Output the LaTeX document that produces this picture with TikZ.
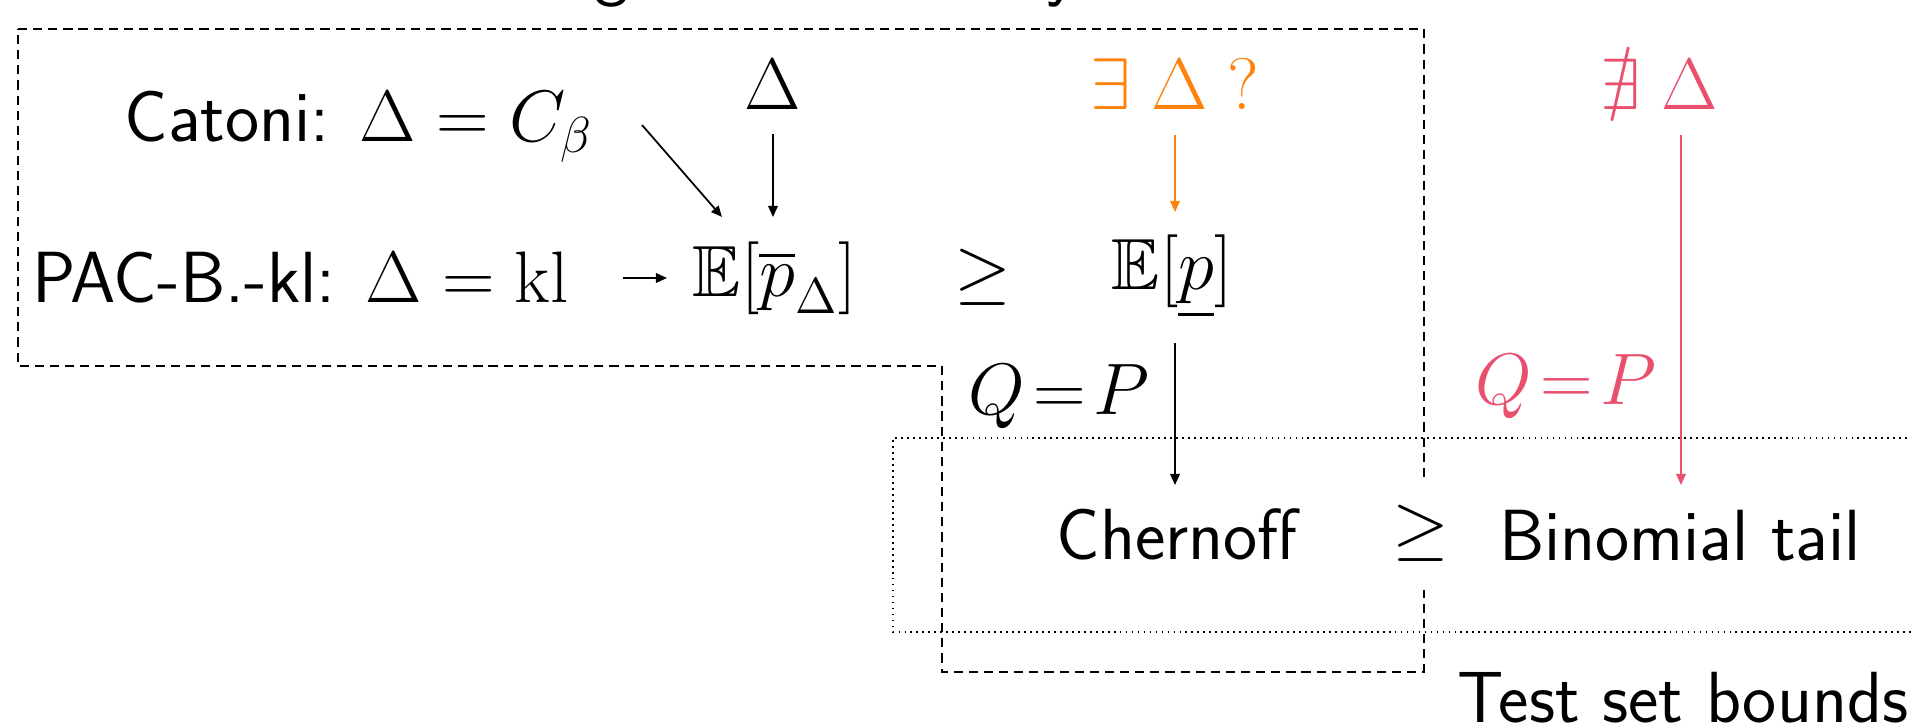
\documentclass[tikz,border=0pt]{standalone}
\usepackage{amssymb}
\usetikzlibrary{arrows.meta}
\definecolor{orangeC}{RGB}{255,130,10}
\definecolor{pinkC}{RGB}{232,80,110}
\tikzset{
  txt/.style={font=\fontsize{20.6}{24}\selectfont\sffamily, inner sep=0pt},
  arr/.style={-{Triangle[length=1.1mm,width=0.95mm]}, line width=0.5pt},
  dashbox/.style={dash pattern=on 2.6pt off 1.7pt, line width=0.5pt},
  dotbox/.style={dash pattern=on 0.5pt off 1.2pt, line width=0.55pt},
}
\begin{document}
\begin{tikzpicture}[x=0.01cm, y=-0.01cm]
\useasboundingbox (0,0) rectangle (1911,728);
\clip (0,0) rectangle (1911,728);
% partially visible title descenders
\node[txt, anchor=base] (tg) at (612,-7) {g};
\node[txt, anchor=base] (ty) at (1062,-7) {y};
% boxes
\draw[dashbox] (18,29) -- (1424,29) -- (1424,672) -- (942,672) -- (942,366) -- (18,366) -- cycle;
\draw[dotbox] (1925,438) -- (893,438) -- (893,632) -- (1925,632);
% nodes
\node[txt, anchor=base west] (catoni) at (124,142) {Catoni: $\Delta = C_\beta$};
\node[txt, anchor=base] (delta) at (773,110) {$\Delta$};
\node[txt, anchor=base, text=orangeC] (exists) at (1175,110) {$\exists\;\Delta\;?$};
\node[txt, anchor=base, text=pinkC] (nexists) at (1659,110) {$\nexists\;\Delta$};
\node[txt, anchor=base west] (pac) at (32,303) {PAC-B.-kl: $\Delta = \mathrm{kl}$};
\node[txt, anchor=base west] (Ebar) at (692,297) {$\mathbb{E}[\overline{p}_\Delta]$};
\node[txt, anchor=base] (geqa) at (983,296) {$\geq$};
\node[txt, anchor=base] (Eund) at (1172,290) {$\mathbb{E}[\underline{p}]$};
\node[txt, anchor=base] (cher) at (1177,560) {Chernoff};
\node[txt, anchor=base] (binom) at (1680,561) {Binomial tail};
\node[txt, anchor=base east] (test) at (1909,723) {Test set bounds};
\node[txt, anchor=base] (qpa) at (1059,415) {$Q\!=\!P$};
\node[txt, anchor=base, text=pinkC] (qpb) at (1566,405) {$Q\!=\!P$};
\fill[white] (1405,483) rectangle (1441,590);
\node[txt, anchor=base] (geqb) at (1421,552) {$\geq$};
% connectors
\coordinate (ca) at (642,125);
\coordinate (cb) at (722,217);
\coordinate (da) at (773,134);
\coordinate (db) at (773,217);
\coordinate (pa) at (623,278);
\coordinate (pb) at (667,278);
\coordinate (ea) at (1175,135);
\coordinate (eb) at (1175,212);
\coordinate (ua) at (1175,343);
\coordinate (ub) at (1175,485);
\coordinate (na) at (1681,135);
\coordinate (nb) at (1681,485);
\draw[arr] (ca) -- (cb);
\draw[arr] (da) -- (db);
\draw[arr] (pa) -- (pb);
\draw[arr, orangeC] (ea) -- (eb);
\draw[arr] (ua) -- (ub);
\draw[arr, pinkC] (na) -- (nb);
\end{tikzpicture}
\end{document}
